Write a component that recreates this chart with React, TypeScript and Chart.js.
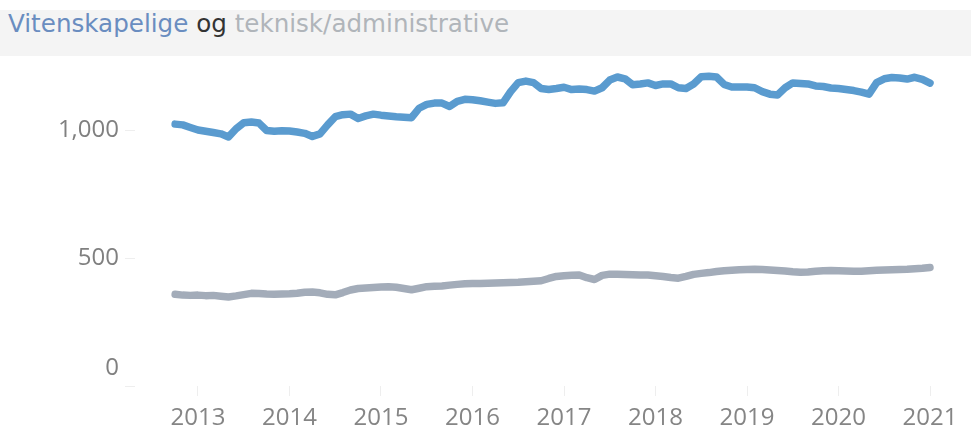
import { useEffect, useRef } from "react";
import { Chart, registerables } from "chart.js";

Chart.register(...registerables);

// Monthly observations (YYYY-MM)
const months: string[] = [
  "2012-10", "2012-11", "2012-12",
  "2013-01", "2013-02", "2013-03", "2013-04", "2013-05", "2013-06", "2013-07", "2013-08", "2013-09", "2013-10", "2013-11", "2013-12",
  "2014-01", "2014-02", "2014-03", "2014-04", "2014-05", "2014-06", "2014-07", "2014-08", "2014-09", "2014-10", "2014-11", "2014-12",
  "2015-01", "2015-02", "2015-03", "2015-04", "2015-05", "2015-06", "2015-07", "2015-08", "2015-09", "2015-10", "2015-11", "2015-12",
  "2016-01", "2016-02", "2016-03", "2016-04", "2016-05", "2016-06", "2016-07", "2016-08", "2016-09", "2016-10", "2016-11", "2016-12",
  "2017-01", "2017-02", "2017-03", "2017-04", "2017-05", "2017-06", "2017-07", "2017-08", "2017-09", "2017-10", "2017-11", "2017-12",
  "2018-01", "2018-02", "2018-03", "2018-04", "2018-05", "2018-06", "2018-07", "2018-08", "2018-09", "2018-10", "2018-11", "2018-12",
  "2019-01", "2019-02", "2019-03", "2019-04", "2019-05", "2019-06", "2019-07", "2019-08", "2019-09", "2019-10", "2019-11", "2019-12",
  "2020-01", "2020-02", "2020-03", "2020-04", "2020-05", "2020-06", "2020-07", "2020-08", "2020-09", "2020-10", "2020-11", "2020-12",
  "2021-01",
];

const vitenskapelige: number[] = [
  1023, 1020, 1010,
  1000, 995, 990, 985, 973, 1005, 1028, 1031, 1027, 998, 995, 997,
  996, 992, 987, 975, 985, 1020, 1052, 1060, 1062, 1045, 1055, 1062,
  1058, 1055, 1052, 1050, 1048, 1085, 1100, 1105, 1105, 1092, 1112, 1120,
  1118, 1114, 1109, 1104, 1106, 1150, 1185, 1191, 1185, 1162, 1158, 1162,
  1167, 1158, 1160, 1158, 1152, 1165, 1195, 1207, 1200, 1177, 1180, 1184,
  1174, 1180, 1180, 1165, 1162, 1180, 1208, 1210, 1207, 1178, 1168, 1168,
  1168, 1165, 1150, 1140, 1137, 1165, 1184, 1182, 1180, 1172, 1170, 1164,
  1162, 1158, 1154, 1148, 1140, 1185, 1200, 1205, 1203, 1199, 1206, 1198,
  1183,
];

const tekniskAdministrative: number[] = [
  358, 355, 354,
  355, 353, 354, 351, 348, 352, 357, 362, 361, 359, 358, 359,
  360, 362, 366, 367, 364, 358, 356, 365, 375, 381, 383, 385,
  387, 388, 386, 381, 376, 382, 388, 390, 391, 394, 397, 399,
  400, 400, 401, 402, 403, 404, 405, 407, 409, 411, 420, 428,
  431, 433, 434, 423, 416, 432, 437, 437, 436, 435, 434, 434,
  431, 428, 424, 421, 428, 436, 440, 443, 447, 450, 452, 454,
  455, 456, 455, 453, 451, 449, 446, 444, 445, 448, 450, 451,
  450, 449, 448, 448, 450, 452, 453, 454, 455, 456, 458, 460,
  463,
];

const xTickYears: number[] = [2013, 2014, 2015, 2016, 2017, 2018, 2019, 2020, 2021];
const yTickValues: number[] = [0, 500, 1000];

const TICK_FONT = "'Open Sans', 'Noto Sans', sans-serif";
const TITLE_FONT = "'DejaVu Sans', 'Open Sans', sans-serif";

function toYear(s: string): number {
  const [y, m] = s.split("-").map(Number);
  return y + (m - 1) / 12;
}

export default function App() {
  const canvasRef = useRef<HTMLCanvasElement | null>(null);

  useEffect(() => {
    document.body.style.margin = "0";
    const canvas = canvasRef.current;
    if (!canvas) return;
    const chart = new Chart(canvas, {
      type: "line",
      data: {
        datasets: [
          {
            label: "Vitenskapelige",
            data: months.map((m, i) => ({ x: toYear(m), y: vitenskapelige[i] })),
            borderColor: "#5a9bcf",
            borderWidth: 7.5,
            pointRadius: 0,
            tension: 0,
            borderCapStyle: "round",
            borderJoinStyle: "round",
          },
          {
            label: "Teknisk/administrative",
            data: months.map((m, i) => ({ x: toYear(m), y: tekniskAdministrative[i] })),
            borderColor: "#a3acb9",
            borderWidth: 7.5,
            pointRadius: 0,
            tension: 0,
            borderCapStyle: "round",
            borderJoinStyle: "round",
          },
        ],
      },
      options: {
        animation: false,
        responsive: false,
        maintainAspectRatio: false,
        layout: { padding: { top: 66, right: 5, left: 0, bottom: 0 } },
        plugins: {
          legend: { display: false },
          tooltip: { enabled: false },
          title: { display: false },
        },
        scales: {
          x: {
            type: "linear",
            min: 2012.3115,
            max: 2021.3934,
            afterBuildTicks: (ax: any) => {
              ax.ticks = xTickYears.map((v) => ({ value: v }));
            },
            afterFit: (ax: any) => {
              ax.height = 42;
            },
            grid: { drawOnChartArea: false, drawTicks: true, tickLength: 10, color: "#eeeeee" },
            border: { display: false },
            ticks: {
              autoSkip: false,
              maxRotation: 0,
              minRotation: 0,
              padding: 8,
              color: "#858585",
              font: { family: TICK_FONT, size: 24 },
              callback: (v: any) => String(v),
            },
          },
          y: {
            type: "linear",
            min: 0,
            max: 1250,
            afterBuildTicks: (ax: any) => {
              ax.ticks = yTickValues.map((v) => ({ value: v }));
            },
            afterFit: (ax: any) => {
              ax.width = 135;
            },
            grid: { drawOnChartArea: false, drawTicks: true, tickLength: 10, color: "#eeeeee" },
            border: { display: false },
            ticks: {
              padding: 6,
              color: "#808080",
              font: (ctx: any) => ({
                family: TICK_FONT,
                size: 24,
                lineHeight: ctx.tick && ctx.tick.value === 0 ? 1.45 : 1.2,
              }),
              callback: (v: any) =>
                Number(v) === 0 ? ["0", ""] : Number(v).toLocaleString("en-US"),
            },
          },
        },
      },
    } as any);
    return () => chart.destroy();
  }, []);

  return (
    <div
      style={{
        position: "fixed",
        top: 0,
        left: 0,
        width: 971,
        height: 428,
        background: "#ffffff",
        overflow: "hidden",
      }}
    >
      <div
        style={{
          position: "absolute",
          top: 10,
          left: 0,
          width: 971,
          height: 46,
          background: "#f4f4f4",
        }}
      />
      <div
        style={{
          position: "absolute",
          top: 12,
          left: 8,
          fontFamily: TITLE_FONT,
          fontSize: 24.6,
          lineHeight: 1,
          whiteSpace: "nowrap",
        }}
      >
        <span style={{ color: "#6a8dc0" }}>Vitenskapelige</span>
        <span style={{ color: "#333333" }}> og </span>
        <span style={{ color: "#b0b5ba" }}>teknisk/administrative</span>
      </div>
      <canvas
        ref={canvasRef}
        width={971}
        height={428}
        style={{ position: "absolute", top: 0, left: 0, width: 971, height: 428 }}
      />
    </div>
  );
}
